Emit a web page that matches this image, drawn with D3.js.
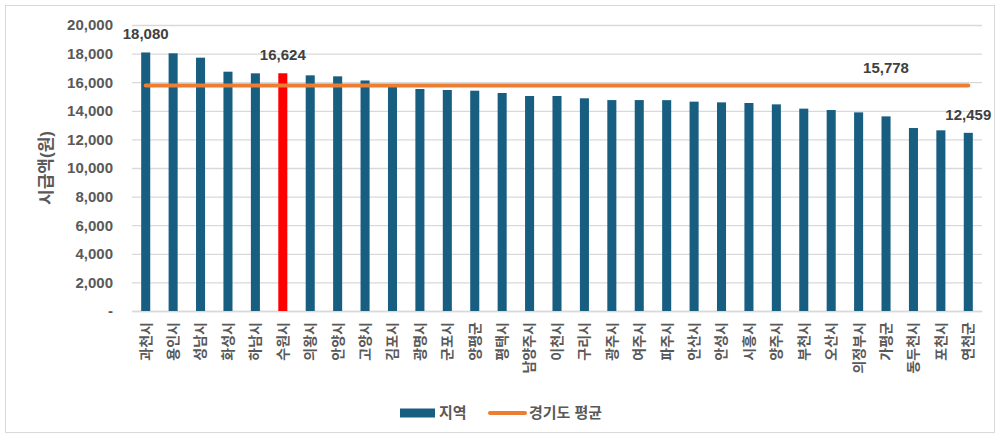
<!DOCTYPE html>
<html>
<head>
<meta charset="utf-8">
<script src="https://cdn.jsdelivr.net/npm/d3@7"></script>
<style>
  body { margin: 0; background: #fff; }
  text { font-family: "Liberation Sans", Arial, "Noto Sans CJK KR", sans-serif; }
</style>
</head>
<body>
<div id="chart"></div>
<script>
/* DATA */
const regions = ["과천시", "용인시", "성남시", "화성시", "하남시", "수원시", "의왕시", "안양시", "고양시", "김포시",
  "광명시", "군포시", "양평군", "평택시", "남양주시", "이천시", "구리시", "광주시", "여주시", "파주시",
  "안산시", "안성시", "시흥시", "양주시", "부천시", "오산시", "의정부시", "가평군", "동두천시", "포천시", "연천군"];
const wages = [18080, 18020, 17715, 16735, 16620, 16624, 16480, 16410, 16120, 15685,
  15525, 15455, 15405, 15245, 15035, 15035, 14875, 14750, 14750, 14745,
  14640, 14590, 14545, 14450, 14150, 14055, 13890, 13610, 12795, 12635, 12459];
const average = 15778;
const highlight = "수원시";
const labelled = ["과천시", "수원시", "연천군"];
const averageLabelAt = "가평군";
const yTicks = [0, 2000, 4000, 6000, 8000, 10000, 12000, 14000, 16000, 18000, 20000];

/* CONSTANTS */
const width = 1000,
  height = 435,
  margin = { top: 25, bottom: 124, left: 132, right: 18 };

const textColor = "#595959";

const svg = d3.select("#chart")
  .append("svg")
  .attr("width", width)
  .attr("height", height);

// outer frame
svg.append("rect")
  .attr("x", 5.5).attr("y", 5.5)
  .attr("width", width - 11).attr("height", height - 8)
  .attr("fill", "none")
  .attr("stroke", "#d9d9d9");

/* SCALES */
const xScale = d3.scaleBand()
  .domain(regions)
  .range([margin.left, width - margin.right])
  .paddingInner(0.67)
  .paddingOuter(0.335);

const yScale = d3.scaleLinear()
  .domain([0, 20000])
  .range([height - margin.bottom, margin.top]);

const fmt = d3.format(",");

/* AXES */
const yAxis = d3.axisLeft(yScale)
  .tickValues(yTicks)
  .tickSize(-(width - margin.left - margin.right))
  .tickPadding(19)
  .tickFormat(d => d === 0 ? "-" : fmt(d));

svg.append("g")
  .attr("class", "yAxis")
  .attr("transform", `translate(${margin.left}, 0)`)
  .call(yAxis)
  .call(g => g.select(".domain").remove())
  .call(g => g.selectAll(".tick line").attr("stroke", "#d9d9d9").attr("stroke-width", 1.3))
  .call(g => g.selectAll(".tick text")
    .attr("fill", textColor)
    .attr("font-size", 15)
    .attr("font-weight", "bold"));

// y axis title
svg.append("text")
  .attr("transform", `translate(52, ${(margin.top + height - margin.bottom) / 2}) rotate(-90)`)
  .attr("text-anchor", "middle")
  .attr("font-size", 17)
  .attr("font-weight", "bold")
  .attr("fill", textColor)
  .text("시급액(원)");

const xAxis = d3.axisBottom(xScale).tickSize(0).tickPadding(0);

svg.append("g")
  .attr("class", "xAxis")
  .attr("transform", `translate(0, ${height - margin.bottom})`)
  .call(xAxis)
  .call(g => g.select(".domain").attr("stroke", "#d9d9d9").attr("stroke-width", 1.3))
  .call(g => g.selectAll(".tick text")
    .attr("fill", textColor)
    .attr("font-size", 14)
    .attr("font-weight", "bold")
    .attr("text-anchor", "end")
    .attr("dy", "0.35em")
    .attr("transform", "translate(0, 11) rotate(-90)"));

/* BARS */
svg.selectAll("rect.bar")
  .data(regions)
  .join("rect")
  .attr("class", "bar")
  .attr("x", d => xScale(d))
  .attr("width", xScale.bandwidth())
  .attr("y", (d, i) => yScale(wages[i]))
  .attr("height", (d, i) => yScale(0) - yScale(wages[i]))
  .attr("fill", d => d === highlight ? "#ff0000" : "#175e80");

/* AVERAGE LINE */
const lineGen = d3.line()
  .x(d => xScale(d) + xScale.bandwidth() / 2)
  .y(() => yScale(average));

svg.append("path")
  .datum([regions[0], regions[regions.length - 1]])
  .attr("d", lineGen)
  .attr("fill", "none")
  .attr("stroke", "#ed7d31")
  .attr("stroke-width", 4)
  .attr("stroke-linecap", "round");

/* DATA LABELS */
svg.selectAll("text.value")
  .data(labelled)
  .join("text")
  .attr("class", "value")
  .attr("x", d => xScale(d) + xScale.bandwidth() / 2)
  .attr("y", d => yScale(wages[regions.indexOf(d)]) - 13)
  .attr("text-anchor", "middle")
  .attr("font-size", 15)
  .attr("font-weight", "bold")
  .attr("fill", "#404040")
  .text(d => fmt(wages[regions.indexOf(d)]));

svg.append("text")
  .attr("x", xScale(averageLabelAt) + xScale.bandwidth() / 2)
  .attr("y", yScale(average) - 12)
  .attr("text-anchor", "middle")
  .attr("font-size", 15)
  .attr("font-weight", "bold")
  .attr("fill", "#404040")
  .text(fmt(average));

/* LEGEND */
const legend = svg.append("g").attr("transform", "translate(400, 413)");

legend.append("rect")
  .attr("x", 0).attr("y", -4.5)
  .attr("width", 35).attr("height", 9)
  .attr("fill", "#175e80");
legend.append("text")
  .attr("x", 39).attr("y", 0)
  .attr("dy", "0.35em")
  .attr("font-size", 15)
  .attr("font-weight", "bold")
  .attr("fill", textColor)
  .text("지역");

legend.append("line")
  .attr("x1", 90).attr("x2", 125)
  .attr("y1", 0).attr("y2", 0)
  .attr("stroke", "#ed7d31")
  .attr("stroke-width", 4)
  .attr("stroke-linecap", "round");
legend.append("text")
  .attr("x", 129).attr("y", 0)
  .attr("dy", "0.35em")
  .attr("font-size", 15)
  .attr("font-weight", "bold")
  .attr("fill", textColor)
  .text("경기도 평균");
</script>
</body>
</html>
